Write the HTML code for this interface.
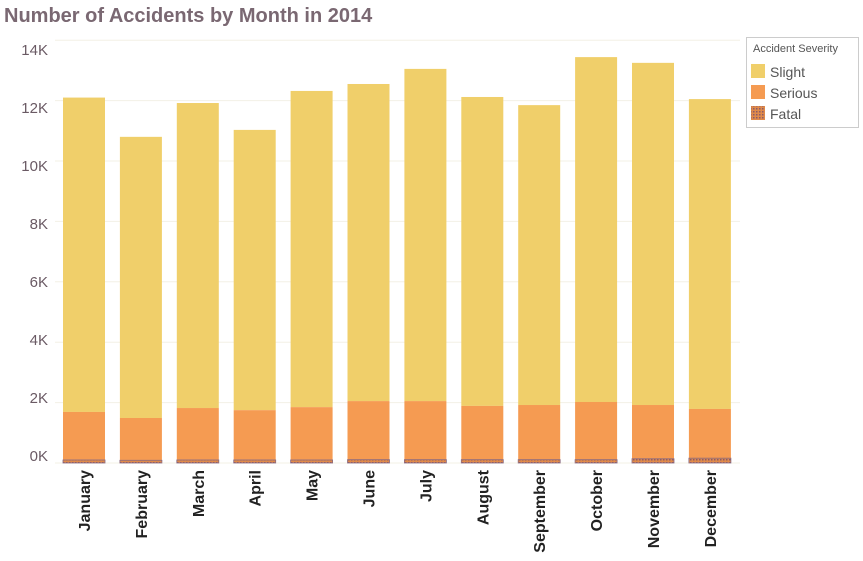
<!DOCTYPE html>
<html><head><meta charset="utf-8"><style>
body{margin:0;background:#fff;width:863px;height:556px;overflow:hidden;font-family:"Liberation Sans",sans-serif}
</style></head><body>
<svg width="863" height="556" xmlns="http://www.w3.org/2000/svg">
<defs><pattern id="hatch" width="3" height="3" patternUnits="userSpaceOnUse"><rect width="3" height="3" fill="#e08a4a"/><rect width="1.5" height="1.5" fill="#8a5a6a"/></pattern></defs>
<text x="4" y="22" font-size="20" font-weight="bold" fill="#7a6872">Number of Accidents by Month in 2014</text>
<g id="grid"></g><g id="yax"></g><g id="bars"></g><g id="xax"></g>
<g>
<rect x="746.5" y="37.5" width="112" height="90" fill="#fff" stroke="#ccc"/>
<text x="753" y="52" font-size="11" fill="#555">Accident Severity</text>
<rect x="751" y="64" width="14" height="14" fill="#f0cf6a"/>
<text x="770" y="77" font-size="14" fill="#555">Slight</text>
<rect x="751" y="85" width="14" height="14" fill="#f59b52"/>
<text x="770" y="98" font-size="14" fill="#555">Serious</text>
<rect x="751" y="106" width="14" height="14" fill="url(#hatch)"/>
<text x="770" y="119" font-size="14" fill="#555">Fatal</text>
</g>
</svg>
<script>
const months=["January","February","March","April","May","June","July","August","September","October","November","December"];
const fatal=[100,90,100,100,100,110,110,110,110,110,140,160];
const serious=[1590,1400,1720,1650,1750,1940,1940,1780,1810,1910,1780,1630];
const slight=[10410,9310,10100,9280,10470,10500,11000,10230,9930,11420,11330,10260];
const yTicks=[0,2,4,6,8,10,12,14];
const NS="http://www.w3.org/2000/svg";
const y0=463,pxPerK=30.2;
function y(v){return y0-v/1000*pxPerK;}
function x(i){return 63+i*56.9;}
const bw=42;
function mk(t,a,p){const e=document.createElementNS(NS,t);for(const k in a)e.setAttribute(k,a[k]);p.appendChild(e);return e;}
const grid=document.getElementById('grid'),yax=document.getElementById('yax'),bars=document.getElementById('bars'),xax=document.getElementById('xax');
yTicks.forEach((t,i)=>{
  const g=mk('line',{x1:55,x2:740,y1:y(t*1000),y2:y(t*1000),stroke:"#f3f0e6","stroke-width":1},grid);
  
  
  const l=mk('text',{x:48,y:461-i*58,"font-size":15,fill:"#6a5a64","text-anchor":"end"},yax);
  l.textContent=t+"K";
  
  
});
months.forEach((m,i)=>{
  const xi=x(i);
  const f=fatal[i],s=serious[i],sl=slight[i];
  const r1=mk('rect',{x:xi,y:y(f+s+sl),width:bw,height:y(f+s)-y(f+s+sl),fill:"#f0cf6a"},bars);
  
  
  const r2=mk('rect',{x:xi,y:y(f+s),width:bw,height:y(f)-y(f+s),fill:"#f59b52"},bars);
  
  
  const r3=mk('rect',{x:xi,y:y(f),width:bw,height:y(0)-y(f),fill:"url(#hatch)",stroke:"#8a6a80","stroke-width":0.8},bars);
  
  
  const cx=xi+bw/2+6;
  const t=mk('text',{x:cx,y:470,"font-size":16,"font-weight":"bold",fill:"#222","text-anchor":"end",transform:`rotate(-90 ${cx} 470)`},xax);
  t.textContent=m;
  
  
});
</script>
</body></html>
